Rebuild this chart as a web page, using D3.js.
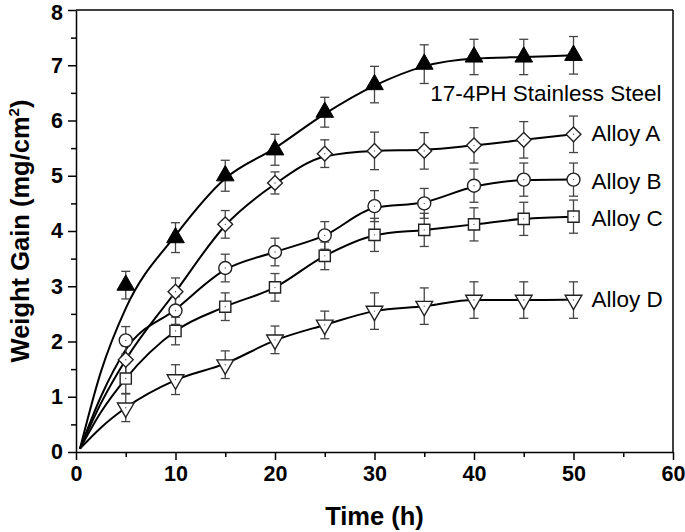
<!DOCTYPE html>
<html><head><meta charset="utf-8">
<script src="https://cdn.jsdelivr.net/npm/d3@7"></script>
<style>body{margin:0;background:#fff}svg{display:block}</style>
</head><body>
<svg id="c" width="685" height="532"></svg>
<script>
const times = [5,10,15,20,25,30,35,40,45,50];
const seriesNames = ["17-4PH Stainless Steel","Alloy A","Alloy B","Alloy C","Alloy D"];
const steelVals = [3.02,3.88,5.00,5.47,6.15,6.65,7.02,7.15,7.15,7.18];
const alloyAVals = [1.67,2.90,4.12,4.87,5.40,5.45,5.45,5.55,5.65,5.75];
const alloyBVals = [2.02,2.56,3.33,3.62,3.92,4.45,4.50,4.82,4.93,4.93];
const alloyCVals = [1.33,2.19,2.63,2.98,3.55,3.93,4.02,4.12,4.22,4.26];
const alloyDVals = [0.80,1.31,1.58,2.03,2.30,2.55,2.64,2.75,2.75,2.75];
const steelErr = [0.25,0.27,0.28,0.28,0.27,0.33,0.35,0.32,0.32,0.34];
const alloyAErr = [0.25,0.25,0.25,0.20,0.25,0.34,0.33,0.32,0.33,0.33];
const alloyBErr = [0.25,0.25,0.25,0.25,0.25,0.28,0.27,0.30,0.30,0.30];
const alloyCErr = [0.27,0.25,0.25,0.25,0.25,0.30,0.30,0.30,0.30,0.30];
const alloyDErr = [0.25,0.27,0.25,0.25,0.25,0.33,0.33,0.33,0.33,0.33];
// fitted curves
const fitTimes = [0.4,2.5,5,10,15,20,25,30,35,40,45,50];
const steelFit = [0.06,1.45,2.6,3.92,4.95,5.5,6.12,6.63,6.98,7.12,7.15,7.18];
const alloyAFit = [0.06,0.88,1.67,2.9,4.1,4.85,5.35,5.45,5.47,5.55,5.65,5.75];
const alloyBFit = [0.06,1.0,1.85,2.58,3.3,3.62,3.92,4.42,4.52,4.8,4.92,4.93];
const alloyCFit = [0.06,0.72,1.33,2.19,2.63,2.98,3.55,3.92,4.02,4.12,4.22,4.26];
const alloyDFit = [0.06,0.44,0.8,1.3,1.6,2.02,2.3,2.55,2.64,2.75,2.75,2.76];
const xTicks = [0,10,20,30,40,50,60];
const yTicks = [0,1,2,3,4,5,6,7,8];
const xLabel = "Time (h)";

const svg = d3.select("#c");
const x = d3.scaleLinear().domain([0,60]).range([76,673]);
const y = d3.scaleLinear().domain([0,8]).range([452,10]);

const series = [
  {name:seriesNames[0], vals:steelVals, err:steelErr, fit:steelFit, marker:"triUp", labelT:35.6, labelV:6.5},
  {name:seriesNames[1], vals:alloyAVals, err:alloyAErr, fit:alloyAFit, marker:"diamond", labelT:51.8, labelV:5.77},
  {name:seriesNames[2], vals:alloyBVals, err:alloyBErr, fit:alloyBFit, marker:"circle", labelT:51.8, labelV:4.91},
  {name:seriesNames[3], vals:alloyCVals, err:alloyCErr, fit:alloyCFit, marker:"square", labelT:51.8, labelV:4.24},
  {name:seriesNames[4], vals:alloyDVals, err:alloyDErr, fit:alloyDFit, marker:"triDown", labelT:51.8, labelV:2.77}
];

// frame
svg.append("line").attr("x1",x(0)).attr("x2",x(60)).attr("y1",y(8)).attr("y2",y(8)).attr("stroke","#000").attr("stroke-width",1.5);
svg.append("line").attr("x1",x(60)).attr("x2",x(60)).attr("y1",y(0)).attr("y2",y(8)).attr("stroke","#000").attr("stroke-width",1.5);

// axes
const fontTick = "'Liberation Sans', Arial, sans-serif";
const xAxis = svg.append("g").attr("transform",`translate(0,${y(0)})`)
  .call(d3.axisBottom(x).tickValues(xTicks).tickSize(8).tickSizeOuter(0).tickPadding(6));
const xMinor = svg.append("g").attr("transform",`translate(0,${y(0)})`)
  .call(d3.axisBottom(x).tickValues(d3.range(5,60,10)).tickSize(5).tickSizeOuter(0).tickFormat(""));
const yAxis = svg.append("g").attr("transform",`translate(${x(0)},0)`)
  .call(d3.axisLeft(y).tickValues(yTicks).tickSize(8).tickSizeOuter(0).tickPadding(5));
const yMinor = svg.append("g").attr("transform",`translate(${x(0)},0)`)
  .call(d3.axisLeft(y).tickValues(d3.range(0.5,8,1)).tickSize(5).tickSizeOuter(0).tickFormat(""));
[xAxis,xMinor,yAxis,yMinor].forEach(g=>{
  g.selectAll("path").attr("stroke","#000").attr("stroke-width",1.5);
  g.selectAll("line").attr("stroke","#000").attr("stroke-width",1.5);
  g.selectAll("text").attr("font-family",fontTick).attr("font-weight","bold").attr("font-size",21.5).attr("fill","#000");
});
xMinor.select("path").remove(); yMinor.select("path").remove();
yAxis.selectAll(".tick text").filter(d=>d===8).attr("dy","0.42em");

// axis titles
svg.append("text").attr("x",(x(0)+x(60))/2).attr("y",525).attr("text-anchor","middle")
  .attr("font-family",fontTick).attr("font-weight","bold").attr("font-size",25.5).text(xLabel);
const yt = svg.append("text").attr("transform",`translate(29,${(y(0)+y(8))/2}) rotate(-90)`).attr("text-anchor","middle")
  .attr("font-family",fontTick).attr("font-weight","bold").attr("font-size",25.5);
yt.append("tspan").text("Weight Gain (mg/cm");
yt.append("tspan").attr("font-size",15).attr("dy",-10).text("2");
yt.append("tspan").attr("dy",10).text(")");

// fitted curves
const line = d3.line().x(d=>x(d[0])).y(d=>y(d[1])).curve(d3.curveMonotoneX);
series.forEach(s=>{
  svg.append("path").datum(fitTimes.map((t,i)=>[t,s.fit[i]]))
    .attr("d",line).attr("fill","none").attr("stroke","#000").attr("stroke-width",2);
});

// error bars
series.forEach(s=>{
  const g = svg.append("g").attr("stroke","#444").attr("stroke-width",1.3);
  times.forEach((t,i)=>{
    const cx = x(t), top=y(s.vals[i]+s.err[i]), bot=y(s.vals[i]-s.err[i]);
    g.append("line").attr("x1",cx).attr("x2",cx).attr("y1",top).attr("y2",bot);
    g.append("line").attr("x1",cx-4.5).attr("x2",cx+4.5).attr("y1",top).attr("y2",top);
    g.append("line").attr("x1",cx-4.5).attr("x2",cx+4.5).attr("y1",bot).attr("y2",bot);
  });
});

// markers
function drawMarker(g, type, cx, cy){
  let el;
  if(type==="triUp"){
    el = g.append("path").attr("d",d3.symbol(d3.symbolTriangle,135)()).attr("transform",`translate(${cx},${cy})`)
      .attr("fill","#000").attr("stroke","#000").attr("stroke-width",1);
    return;
  }
  if(type==="triDown") el = g.append("path").attr("d",d3.symbol(d3.symbolTriangle,120)()).attr("transform",`translate(${cx},${cy}) rotate(180)`);
  if(type==="diamond") el = g.append("path").attr("d",d3.symbol(d3.symbolSquare,110)()).attr("transform",`translate(${cx},${cy}) rotate(45)`);
  if(type==="circle") el = g.append("circle").attr("cx",cx).attr("cy",cy).attr("r",6.5);
  if(type==="square") el = g.append("path").attr("d",d3.symbol(d3.symbolSquare,125)()).attr("transform",`translate(${cx},${cy})`);
  el.attr("fill","#fff").attr("stroke","#222").attr("stroke-width",1.4);
  g.append("circle").attr("cx",cx).attr("cy",cy).attr("r",0.7).attr("fill","#555");
}
series.forEach(s=>{
  const g = svg.append("g");
  times.forEach((t,i)=>drawMarker(g, s.marker, x(t), y(s.vals[i])));
});

// series labels
series.forEach(s=>{
  svg.append("text").attr("x",x(s.labelT)).attr("y",y(s.labelV)).attr("dy","0.35em")
    .attr("font-family",fontTick).attr("font-size",22.5).attr("fill","#000").text(s.name);
});
</script>
</body></html>
